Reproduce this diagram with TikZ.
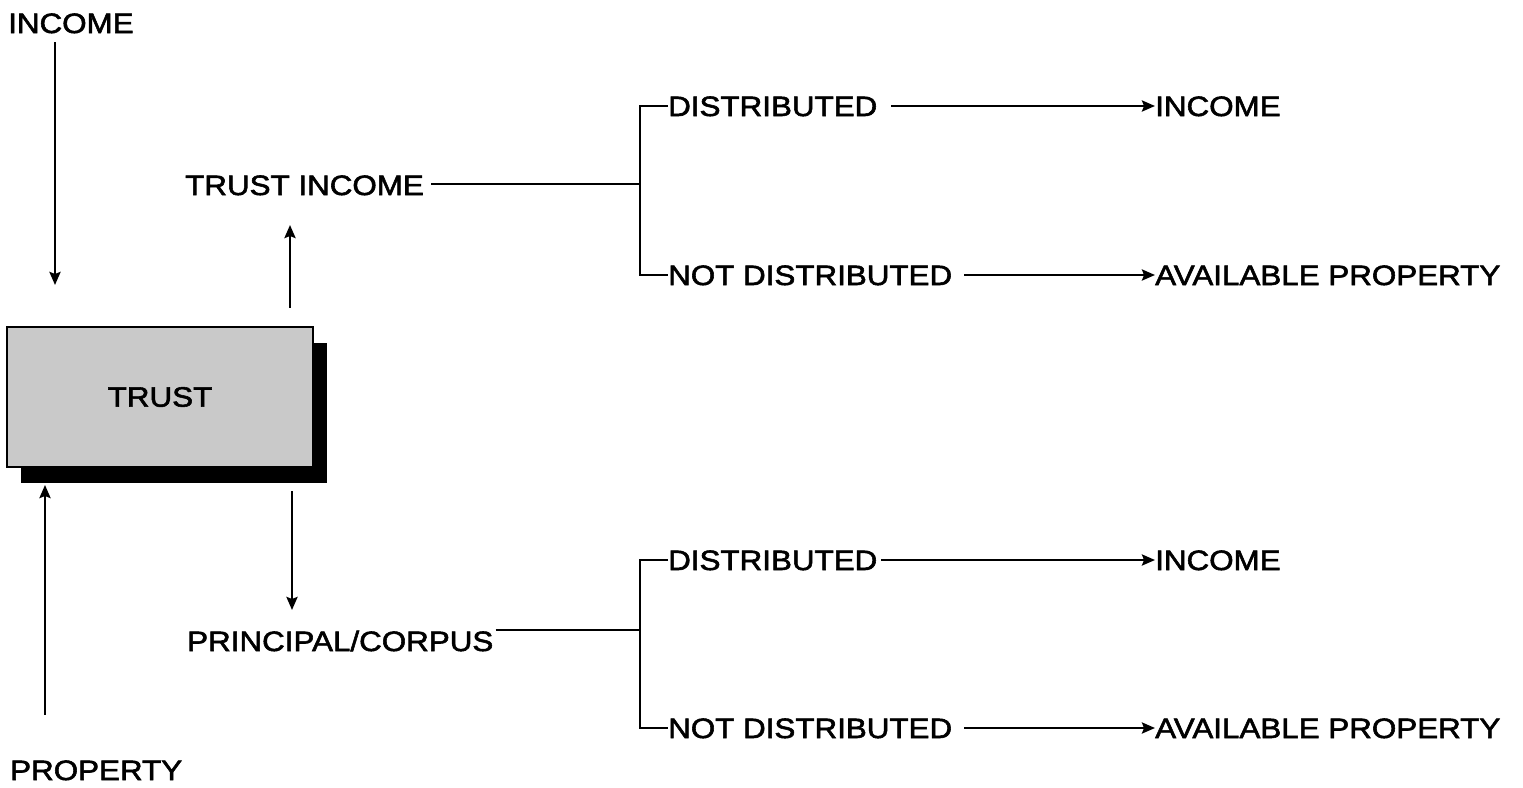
\documentclass[tikz,border=0pt]{standalone}
\usepackage{fontspec}
\setmainfont{Liberation Sans}[FakeStretch=1.12,FakeBold=2]
\usetikzlibrary{arrows.meta,shadows}
\begin{document}
\begin{tikzpicture}[x=1pt,y=-1pt,
  lbl/.style={inner sep=0pt,text height=20pt,text depth=0pt,anchor=west,font=\fontsize{28}{32}\selectfont},
  ln/.style={line width=2.6pt},
  arr/.style={line width=2.6pt,-{Stealth[length=13pt,width=11pt,inset=2pt]}},
  trustbox/.style={draw,line width=2.6pt,fill=gray!42,minimum width=306pt,minimum height=140pt,
     drop shadow={shadow xshift=14pt,shadow yshift=-16pt,fill=black,opacity=1},
     font=\fontsize{28}{32}\selectfont}]
\useasboundingbox (0,0) rectangle (1523,787);
% left column
\node[lbl] (inc) at (8,23) {INCOME};
\node[lbl] (prop) at (10,770) {PROPERTY};
\node[trustbox] (trust) at (160,397) {TRUST};
\coordinate (a1) at (55,285);
\coordinate (a2) at (45,485);
\draw[arr] (a1 |- inc.south) ++(0,9) -- (a1);
\draw[arr] (a2 |- prop.north) ++(0,-45) -- (a2);
% upper branch
\node[lbl] (ti) at (185,185) {TRUST INCOME};
\coordinate (c1) at (290,225);
\draw[arr] (c1 |- trust.north) ++(0,-18) -- (c1);
\coordinate (j1) at (640,184);
\node[lbl] (d1) at (668,106) {DISTRIBUTED};
\node[lbl] (nd1) at (668,275) {NOT DISTRIBUTED};
\node[lbl] (i1) at (1155,106) {INCOME};
\node[lbl] (p1) at (1155,275) {AVAILABLE PROPERTY};
\draw[ln] (ti.east) ++(7,-1) -- (j1);
\draw[ln] (d1.west) -| (j1) |- (nd1.west);
\draw[arr] (d1.east) ++(14,0) -- (i1.west);
\draw[arr] (nd1.east) ++(12,0) -- (p1.west);
% lower branch
\node[lbl] (pc) at (187,641) {PRINCIPAL/CORPUS};
\coordinate (c2) at (292,610);
\draw[arr] (c2 |- trust.south) ++(0,23) -- (c2);
\coordinate (j2) at (640,630);
\node[lbl] (d2) at (668,560) {DISTRIBUTED};
\node[lbl] (nd2) at (668,728) {NOT DISTRIBUTED};
\node[lbl] (i2) at (1155,560) {INCOME};
\node[lbl] (p2) at (1155,728) {AVAILABLE PROPERTY};
\draw[ln] (pc.east) ++(2,-11) -- (j2);
\draw[ln] (d2.west) -| (j2) |- (nd2.west);
\draw[arr] (d2.east) ++(4,0) -- (i2.west);
\draw[arr] (nd2.east) ++(12,0) -- (p2.west);
\end{tikzpicture}
\end{document}
